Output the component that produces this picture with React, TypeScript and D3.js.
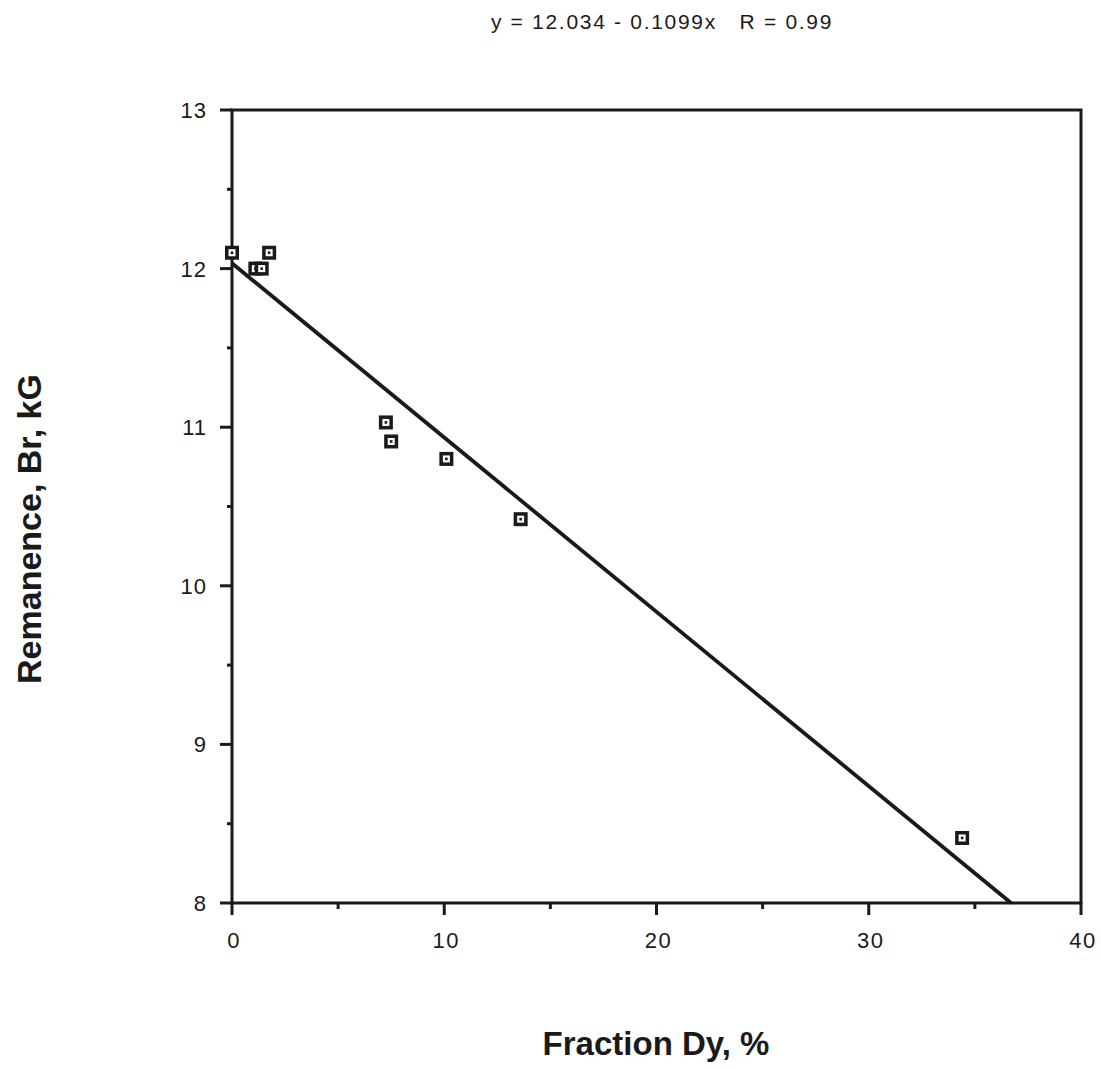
import React, { useEffect, useRef } from "react";
import * as d3 from "d3";

// measured points (Fraction Dy %, Remanence kG)
const fractionDy = [0, 1.1, 1.4, 1.75, 7.25, 7.5, 10.1, 13.6, 34.4];
const remanence = [12.1, 12.0, 12.0, 12.1, 11.03, 10.91, 10.8, 10.42, 8.41];
const fitIntercept = 12.034;
const fitSlope = -0.1099;
const xMajor = [0, 10, 20, 30, 40];
const xMinor = [5, 15, 25, 35];
const yMajor = [8, 9, 10, 11, 12, 13];
const yMinor = [8.5, 9.5, 10.5, 11.5, 12.5];

const App = () => {
  const ref = useRef<SVGSVGElement>(null);

  useEffect(() => {
    const width = 1101;
    const height = 1069;
    const font = "'Liberation Sans', Arial, Helvetica, sans-serif";
    const ink = "#1a1a1a";
    const svg = d3.select(ref.current);
    svg.selectAll("*").remove();
    svg.attr("width", width).attr("height", height);

    const x = d3.scaleLinear().domain([0, 40]).range([232, 1081]);
    const y = d3.scaleLinear().domain([8, 13]).range([903, 110]);

    const g = svg.append("g");

    // frame
    g.append("rect")
      .attr("x", x(0))
      .attr("y", y(13))
      .attr("width", x(40) - x(0))
      .attr("height", y(8) - y(13))
      .attr("fill", "none")
      .attr("stroke", ink)
      .attr("stroke-width", 3);

    // y ticks
    g.selectAll(".ymaj")
      .data(yMajor)
      .enter()
      .append("line")
      .attr("x1", x(0) - 12)
      .attr("x2", x(0))
      .attr("y1", (d) => y(d))
      .attr("y2", (d) => y(d))
      .attr("stroke", ink)
      .attr("stroke-width", 3);
    g.selectAll(".ymin")
      .data(yMinor)
      .enter()
      .append("line")
      .attr("x1", x(0) - 5)
      .attr("x2", x(0))
      .attr("y1", (d) => y(d))
      .attr("y2", (d) => y(d))
      .attr("stroke", ink)
      .attr("stroke-width", 3);
    g.selectAll(".ylab")
      .data(yMajor)
      .enter()
      .append("text")
      .attr("x", x(0) - 25)
      .attr("y", (d) => y(d) + 8)
      .attr("text-anchor", "end")
      .attr("font-family", font)
      .attr("font-size", 22)
      .attr("letter-spacing", 1)
      .attr("fill", ink)
      .text((d) => d);

    // x ticks
    g.selectAll(".xmaj")
      .data(xMajor)
      .enter()
      .append("line")
      .attr("x1", (d) => x(d))
      .attr("x2", (d) => x(d))
      .attr("y1", y(8))
      .attr("y2", y(8) + 12)
      .attr("stroke", ink)
      .attr("stroke-width", 3);
    g.selectAll(".xmin")
      .data(xMinor)
      .enter()
      .append("line")
      .attr("x1", (d) => x(d))
      .attr("x2", (d) => x(d))
      .attr("y1", y(8))
      .attr("y2", y(8) + 6)
      .attr("stroke", ink)
      .attr("stroke-width", 3);
    g.selectAll(".xlab")
      .data(xMajor)
      .enter()
      .append("text")
      .attr("x", (d) => x(d) + 2)
      .attr("y", y(8) + 45)
      .attr("text-anchor", "middle")
      .attr("font-family", font)
      .attr("font-size", 22)
      .attr("letter-spacing", 1.5)
      .attr("fill", ink)
      .text((d) => d);

    // fit line, stops at y = 8
    const xEnd = (8 - fitIntercept) / fitSlope;
    g.append("line")
      .attr("x1", x(0))
      .attr("y1", y(fitIntercept))
      .attr("x2", x(xEnd))
      .attr("y2", y(fitIntercept + fitSlope * xEnd))
      .attr("stroke", ink)
      .attr("stroke-width", 3.8);

    // markers
    const pts = fractionDy.map((v, i) => ({ fx: v, r: remanence[i] }));
    const m = g
      .selectAll(".pt")
      .data(pts)
      .enter()
      .append("g")
      .attr("transform", (d) => `translate(${x(d.fx)},${y(d.r)})`);
    m.append("rect").attr("x", -7).attr("y", -7).attr("width", 14).attr("height", 14).attr("fill", ink);
    m.append("rect").attr("x", -3.5).attr("y", -3.5).attr("width", 7).attr("height", 7).attr("fill", "white");
    m.append("rect").attr("x", -1.3).attr("y", -1.3).attr("width", 2.6).attr("height", 2.6).attr("fill", ink);

    // title + axis titles
    svg
      .append("text")
      .attr("x", 662)
      .attr("y", 29)
      .attr("text-anchor", "middle")
      .attr("font-family", font)
      .attr("font-size", 21)
      .attr("letter-spacing", 1.7)
      .attr("fill", ink)
      .attr("xml:space", "preserve")
      .text("y = 12.034 - 0.1099x   R = 0.99");

    svg
      .append("text")
      .attr("x", 656)
      .attr("y", 1055)
      .attr("text-anchor", "middle")
      .attr("font-family", font)
      .attr("font-size", 33)
      .attr("font-weight", "bold")
      .attr("fill", ink)
      .text("Fraction Dy, %");

    svg
      .append("text")
      .attr("transform", `translate(41,529) rotate(-90)`)
      .attr("text-anchor", "middle")
      .attr("font-family", font)
      .attr("font-size", 34)
      .attr("font-weight", "bold")
      .attr("fill", ink)
      .text("Remanence, Br, kG");
  }, []);

  return (
    <svg
      ref={ref}
      style={{ position: "absolute", left: 0, top: 0, background: "white" }}
    ></svg>
  );
};

export default App;
